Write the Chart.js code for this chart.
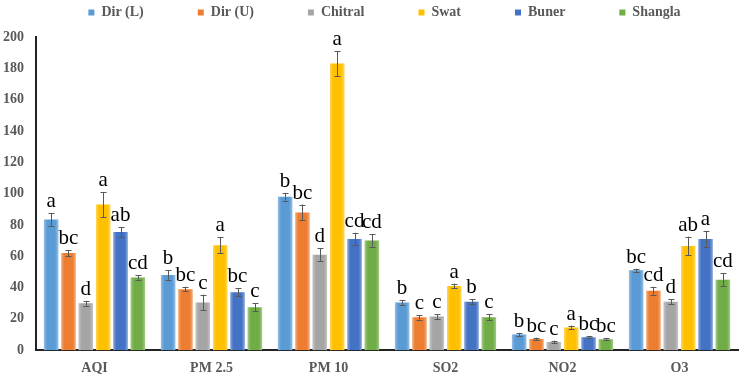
<!DOCTYPE html>
<html>
<head>
<meta charset="utf-8">
<script src="https://cdn.jsdelivr.net/npm/chart.js@4/dist/chart.umd.min.js"></script>
<style>
  html, body { margin: 0; padding: 0; background: #fff; overflow: hidden; }
  canvas { display: block; }
</style>
</head>
<body>
<canvas id="myChart" width="741" height="377"></canvas>
<script>
const categories = ['AQI', 'PM 2.5', 'PM 10', 'SO2', 'NO2', 'O3'];
const seriesNames = ['Dir (L)', 'Dir (U)', 'Chitral', 'Swat', 'Buner', 'Shangla'];

const dirL    = [83.5, 48, 98, 30.5, 10, 51];
const dirU    = [62, 39, 88, 21, 7.2, 38];
const chitral = [30, 30.5, 61, 21.5, 5.3, 31];
const swat    = [93, 67, 183, 41, 14.5, 66.5];
const buner   = [75.5, 37, 71, 31, 8.3, 71];
const shangla = [46.5, 27.5, 70, 21, 7, 45];

const dirLErr    = [4, 3, 2.5, 1.5, 1, 1];
const dirUErr    = [2, 1.5, 5, 1.5, 0.8, 2.5];
const chitralErr = [1.5, 5, 4, 1.5, 0.8, 1.5];
const swatErr    = [8, 5, 8, 1.5, 1.2, 6];
const bunerErr   = [3, 2.5, 4, 1.5, 0.5, 5];
const shanglaErr = [1.5, 2.5, 4, 2, 0.5, 4];

const dirLSig    = ['a', 'b', 'b', 'b', 'b', 'bc'];
const dirUSig    = ['bc', 'bc', 'bc', 'c', 'bc', 'cd'];
const chitralSig = ['d', 'c', 'd', 'c', 'c', 'd'];
const swatSig    = ['a', 'a', 'a', 'a', 'a', 'ab'];
const bunerSig   = ['ab', 'bc', 'cd', 'b', 'bc', 'a'];
const shanglaSig = ['cd', 'c', 'cd', 'c', 'bc', 'cd'];

const yTicks = [0, 20, 40, 60, 80, 100, 120, 140, 160, 180, 200];

const colors = ['#5b9bd5', '#ed7d31', '#a5a5a5', '#ffc000', '#4472c4', '#70ad47'];
const values = [dirL, dirU, chitral, swat, buner, shangla];
const errors = [dirLErr, dirUErr, chitralErr, swatErr, bunerErr, shanglaErr];
const letters = [dirLSig, dirUSig, chitralSig, swatSig, bunerSig, shanglaSig];

const serif = "'Liberation Serif', 'Times New Roman', serif";

// soft light edges on each bar, like the office gradient fill
const barSheen = {
    id: 'barSheen',
    afterDatasetsDraw(chart) {
        const { ctx } = chart;
        ctx.save();
        chart.data.datasets.forEach((ds, i) => {
            chart.getDatasetMeta(i).data.forEach(bar => {
                const w = bar.width, x0 = bar.x - w / 2;
                const g = ctx.createLinearGradient(x0, 0, x0 + w, 0);
                g.addColorStop(0, 'rgba(255,255,255,0.35)');
                g.addColorStop(0.22, 'rgba(255,255,255,0)');
                g.addColorStop(0.78, 'rgba(255,255,255,0)');
                g.addColorStop(1, 'rgba(255,255,255,0.35)');
                ctx.fillStyle = g;
                ctx.fillRect(x0, bar.y, w, bar.base - bar.y);
            });
        });
        ctx.restore();
    }
};

// error bars + significance letters
const errorBarPlugin = {
    id: 'errorBars',
    afterDatasetsDraw(chart) {
        const { ctx } = chart;
        const y = chart.scales.y;
        ctx.save();
        chart.data.datasets.forEach((ds, i) => {
            const meta = chart.getDatasetMeta(i);
            meta.data.forEach((bar, j) => {
                const v = values[i][j], e = errors[i][j];
                const top = y.getPixelForValue(v + e);
                const bot = y.getPixelForValue(v - e);
                const x = Math.round(bar.x) + 0.5;
                ctx.strokeStyle = '#595959';
                ctx.lineWidth = 1;
                ctx.beginPath();
                ctx.moveTo(x, top); ctx.lineTo(x, bot);
                ctx.moveTo(x - 3, Math.round(top) + 0.5); ctx.lineTo(x + 3, Math.round(top) + 0.5);
                ctx.moveTo(x - 3, Math.round(bot) + 0.5); ctx.lineTo(x + 3, Math.round(bot) + 0.5);
                ctx.stroke();

                ctx.fillStyle = '#000';
                ctx.font = '21px ' + serif;
                ctx.textAlign = 'center';
                ctx.textBaseline = 'alphabetic';
                ctx.fillText(letters[i][j], bar.x, top - 6);
            });
        });
        ctx.restore();
    }
};

// spread legend items like the original but keep it short
const legendSpacing = {
    id: 'legendSpacing',
    beforeUpdate(chart) {
        const lg = chart.legend;
        if (lg && !lg._patched) {
            const fit = lg.fit;
            lg.fit = function () { fit.call(this); this.height = 37; };
            lg._patched = true;
        }
    },
    afterLayout(chart) {
        const lg = chart.legend;
        lg.top = 5.5 - lg.options.labels.padding;
        lg.left += 14;
        lg.right += 14;
    }
};

new Chart(document.getElementById('myChart'), {
    type: 'bar',
    plugins: [barSheen, errorBarPlugin, legendSpacing],
    data: {
        labels: categories,
        datasets: seriesNames.map((name, i) => ({
            label: name,
            data: values[i],
            backgroundColor: colors[i],
            borderWidth: 0,
            barPercentage: 0.83,
            categoryPercentage: 0.89
        }))
    },
    options: {
        responsive: false,
        animation: false,
        layout: { padding: { left: 3, right: 3, top: 0, bottom: 0 } },
        plugins: {
            tooltip: { enabled: false },
            legend: {
                position: 'top',
                labels: {
                    boxWidth: 6,
                    boxHeight: 6,
                    padding: 54,
                    color: '#595959',
                    font: { family: serif, size: 14, weight: 'bold' }
                }
            }
        },
        scales: {
            x: {
                afterFit(axis) { axis.height -= axis.options.ticks.padding; },
                grid: { display: false, drawTicks: false },
                border: { color: '#222', width: 2 },
                ticks: {
                    color: '#595959',
                    padding: 10,
                    font: { family: serif, size: 14, weight: 'bold' }
                }
            },
            y: {
                min: 0,
                max: 200,
                afterBuildTicks(axis) {
                    axis.ticks = yTicks.map(v => ({ value: v }));
                },
                afterFit(axis) { axis.width -= axis.options.ticks.padding; },
                grid: { display: false, drawTicks: false },
                border: { color: '#222', width: 2 },
                ticks: {
                    color: '#595959',
                    padding: 12,
                    font: { family: serif, size: 14, weight: 'bold' }
                }
            }
        }
    }
});
</script>
</body>
</html>
